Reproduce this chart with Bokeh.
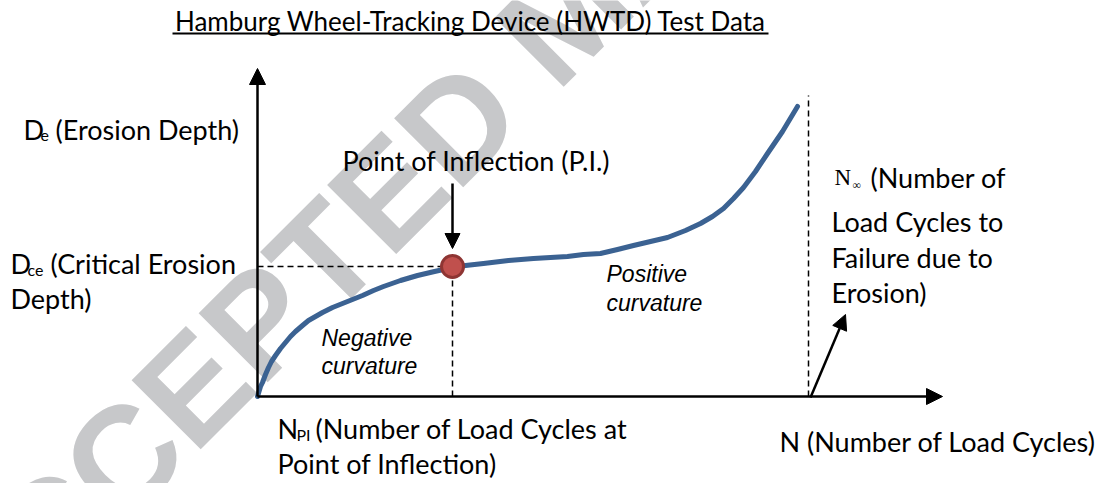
from bokeh.plotting import figure
from bokeh.models import Range1d, Label, Arrow, NormalHead
from bokeh.embed import file_html
from bokeh.resources import INLINE

# ---- data (conceptual curve: N = load cycles, D = erosion depth, arbitrary units) ----
curve_n = [0, 3, 5, 8, 11, 14, 18, 23, 28, 33, 38, 45, 51, 58, 65, 75, 85, 95, 105, 116, 126, 143,
           160, 177, 195, 208, 226, 251, 276, 293, 310, 326, 343, 360, 376, 393, 410, 428, 443, 455,
           466, 476, 486, 498, 510, 525, 540]
curve_d = [0, 10, 14, 22, 29, 35, 41, 48, 54, 60, 65, 71, 76, 80, 84, 89, 93, 97, 101, 106, 110, 116,
           121, 125, 129, 131, 133, 136, 138, 139, 140, 142, 143, 147, 151, 155, 159, 166, 173, 180,
           188, 198, 209, 225, 243, 265, 290]
n_pi = 195
d_ce = 130
n_inf = 551
n_axis_max = 685
d_axis_max = 328
d_guide_top = 301

title_text = "Hamburg Wheel-Tracking Device (HWTD) Test Data"
watermark_text = "ACCEPTED MANUSCRIPT"

W, H = 1102, 483
p = figure(width=W, height=H, x_range=Range1d(-257, 845), y_range=Range1d(-87, 396),
           output_backend="svg", toolbar_location=None, min_border=0)
p.axis.visible = False
p.grid.visible = False
p.outline_line_color = None
p.background_fill_color = "white"

MAIN = "Lato"
SIZE = "27px"
SUB = "16px"

# watermark (drawn beneath everything)
p.add_layout(Label(x=-316, y=-242, text=watermark_text, angle=0.785, text_font="Liberation Sans",
                   text_font_style="bold", text_font_size="142px", text_color="#c7c8ca",
                   text_baseline="alphabetic", text_align="left", level="underlay"))

# dashed guide lines
p.line([0, n_pi], [d_ce, d_ce], line_color="black", line_width=1.5, line_dash="6 4")
p.line([n_pi, n_pi], [0, d_ce], line_color="black", line_width=1.5, line_dash="6 4")
p.line([n_inf, n_inf], [0, d_guide_top], line_color="black", line_width=1.5, line_dash="6 4")

# axes as arrows
p.add_layout(Arrow(x_start=0, y_start=0, x_end=0, y_end=d_axis_max, line_width=2.5, line_color="black",
                   end=NormalHead(size=16, fill_color="black", line_color="black")))
p.add_layout(Arrow(x_start=0, y_start=0, x_end=n_axis_max, y_end=0, line_width=2.5, line_color="black",
                   end=NormalHead(size=16, fill_color="black", line_color="black")))
# PI arrow
p.add_layout(Arrow(x_start=n_pi, y_start=213, x_end=n_pi, y_end=148, line_width=2.5, line_color="black",
                   end=NormalHead(size=15, fill_color="black", line_color="black")))
# N_inf arrow
p.add_layout(Arrow(x_start=n_inf + 2, y_start=-1, x_end=588, y_end=82, line_width=2.5, line_color="black",
                   end=NormalHead(size=15, fill_color="black", line_color="black")))

# curve
p.line(curve_n, curve_d, line_color="#3b6292", line_width=5, line_join="round", line_cap="round")
p.scatter([n_pi], [d_ce], size=22, fill_color="#c0504d", line_color="#8e3533", line_width=3)

def lab(x, y, t, size=SIZE, font=MAIN, style="normal", baseline="middle", align="left"):
    p.add_layout(Label(x=x, y=y, text=t, text_font=font, text_font_size=size, text_font_style=style,
                       text_baseline=baseline, text_align=align, text_color="black"))

# title + underline
lab(213, 376, title_text, size="26px", align="center")
p.line([-85, 511], [363, 363], line_color="black", line_width=2)

# y labels
lab(-234, 267, "D")
lab(-217, 261, "e", size=SUB)
lab(-202, 267, "(Erosion Depth)")
lab(-247, 133, "D")
lab(-230, 127, "ce", size=SUB)
lab(-207, 133, "(Critical Erosion")
lab(-247, 98, "Depth)")

# x labels
lab(20, -32, "N")
lab(39, -38, "PI", size=SUB)
lab(58, -32, "(Number of Load Cycles at")
lab(20, -67, "Point of Inflection)")
lab(522, -45, "N (Number of Load Cycles)")

# PI label
lab(85, 236, "Point of Inflection (P.I.)")

# curvature labels
lab(64, 59, "Negative", size="23px", font="Liberation Sans", style="italic")
lab(64, 31, "curvature", size="23px", font="Liberation Sans", style="italic")
lab(349, 123, "Positive", size="23px", font="Liberation Sans", style="italic")
lab(349, 94, "curvature", size="23px", font="Liberation Sans", style="italic")

# N_inf label
lab(577, 219, "N", size="23px", font="Liberation Serif")
lab(595, 212, "\u221e", size="12px", font="Liberation Serif")
lab(613, 219, "(Number of")
lab(574, 175, "Load Cycles to")
lab(574, 139, "Failure due to")
lab(574, 104, "Erosion)")

open("out.html", "w").write(file_html(p, INLINE))
